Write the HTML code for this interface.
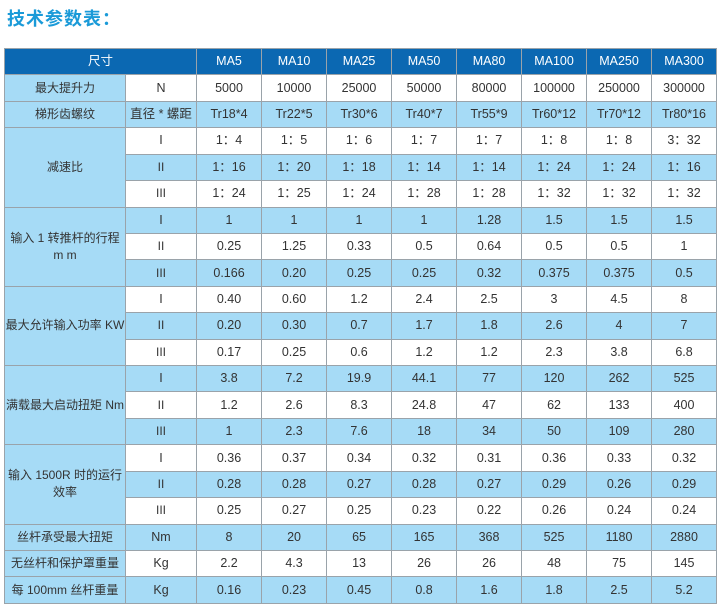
<!DOCTYPE html>
<html><head><meta charset="utf-8"><style>
body{margin:0;width:720px;height:612px;background:#fff;position:relative;overflow:hidden;font-family:"Liberation Sans","Noto Sans CJK SC",sans-serif;}
.t{position:absolute;left:7px;top:5px;font-size:18px;font-weight:bold;color:#1a9ad8;letter-spacing:1px;}
table{position:absolute;left:4px;top:48px;width:712px;height:555px;border-collapse:collapse;table-layout:fixed;}
td{border:1px solid #9aa3aa;text-align:center;font-size:12.5px;color:#333;padding:0;background:#fff;line-height:17px;white-space:nowrap;overflow:visible;}
td:first-child{font-size:12px;}
tr.h td:first-child{font-size:12.5px;}
tr{height:26.43px;}
tr.h td{background:#0b68b2;color:#fff;font-size:12.5px;}
tr.b td{background:#a6dbf6;}
td.f{background:#a6dbf6;}
</style></head><body>
<div class="t">技术参数表：</div>
<table>
<colgroup><col style="width:121px"><col style="width:71px"><col span="8" style="width:65px"></colgroup>
<tr class="h"><td colspan="2">尺寸</td><td>MA5</td><td>MA10</td><td>MA25</td><td>MA50</td><td>MA80</td><td>MA100</td><td>MA250</td><td>MA300</td></tr>
<tr><td class="f">最大提升力</td><td>N</td><td>5000</td><td>10000</td><td>25000</td><td>50000</td><td>80000</td><td>100000</td><td>250000</td><td>300000</td></tr>
<tr class="b"><td>梯形齿螺纹</td><td>直径 * 螺距</td><td>Tr18*4</td><td>Tr22*5</td><td>Tr30*6</td><td>Tr40*7</td><td>Tr55*9</td><td>Tr60*12</td><td>Tr70*12</td><td>Tr80*16</td></tr>
<tr><td class="f" rowspan="3">减速比</td><td>I</td><td>1：4</td><td>1：5</td><td>1：6</td><td>1：7</td><td>1：7</td><td>1：8</td><td>1：8</td><td>3：32</td></tr>
<tr class="b"><td>II</td><td>1：16</td><td>1：20</td><td>1：18</td><td>1：14</td><td>1：14</td><td>1：24</td><td>1：24</td><td>1：16</td></tr>
<tr><td>III</td><td>1：24</td><td>1：25</td><td>1：24</td><td>1：28</td><td>1：28</td><td>1：32</td><td>1：32</td><td>1：32</td></tr>
<tr class="b"><td rowspan="3">输入 1 转推杆的行程<br>m m</td><td>I</td><td>1</td><td>1</td><td>1</td><td>1</td><td>1.28</td><td>1.5</td><td>1.5</td><td>1.5</td></tr>
<tr><td>II</td><td>0.25</td><td>1.25</td><td>0.33</td><td>0.5</td><td>0.64</td><td>0.5</td><td>0.5</td><td>1</td></tr>
<tr class="b"><td>III</td><td>0.166</td><td>0.20</td><td>0.25</td><td>0.25</td><td>0.32</td><td>0.375</td><td>0.375</td><td>0.5</td></tr>
<tr><td class="f" rowspan="3">最大允许输入功率 KW</td><td>I</td><td>0.40</td><td>0.60</td><td>1.2</td><td>2.4</td><td>2.5</td><td>3</td><td>4.5</td><td>8</td></tr>
<tr class="b"><td>II</td><td>0.20</td><td>0.30</td><td>0.7</td><td>1.7</td><td>1.8</td><td>2.6</td><td>4</td><td>7</td></tr>
<tr><td>III</td><td>0.17</td><td>0.25</td><td>0.6</td><td>1.2</td><td>1.2</td><td>2.3</td><td>3.8</td><td>6.8</td></tr>
<tr class="b"><td rowspan="3">满载最大启动扭矩 Nm</td><td>I</td><td>3.8</td><td>7.2</td><td>19.9</td><td>44.1</td><td>77</td><td>120</td><td>262</td><td>525</td></tr>
<tr><td>II</td><td>1.2</td><td>2.6</td><td>8.3</td><td>24.8</td><td>47</td><td>62</td><td>133</td><td>400</td></tr>
<tr class="b"><td>III</td><td>1</td><td>2.3</td><td>7.6</td><td>18</td><td>34</td><td>50</td><td>109</td><td>280</td></tr>
<tr><td class="f" rowspan="3">输入 1500R 时的运行<br>效率</td><td>I</td><td>0.36</td><td>0.37</td><td>0.34</td><td>0.32</td><td>0.31</td><td>0.36</td><td>0.33</td><td>0.32</td></tr>
<tr class="b"><td>II</td><td>0.28</td><td>0.28</td><td>0.27</td><td>0.28</td><td>0.27</td><td>0.29</td><td>0.26</td><td>0.29</td></tr>
<tr><td>III</td><td>0.25</td><td>0.27</td><td>0.25</td><td>0.23</td><td>0.22</td><td>0.26</td><td>0.24</td><td>0.24</td></tr>
<tr class="b"><td>丝杆承受最大扭矩</td><td>Nm</td><td>8</td><td>20</td><td>65</td><td>165</td><td>368</td><td>525</td><td>1180</td><td>2880</td></tr>
<tr><td class="f">无丝杆和保护罩重量</td><td>Kg</td><td>2.2</td><td>4.3</td><td>13</td><td>26</td><td>26</td><td>48</td><td>75</td><td>145</td></tr>
<tr class="b"><td>每 100mm 丝杆重量</td><td>Kg</td><td>0.16</td><td>0.23</td><td>0.45</td><td>0.8</td><td>1.6</td><td>1.8</td><td>2.5</td><td>5.2</td></tr>
</table>
</body></html>
